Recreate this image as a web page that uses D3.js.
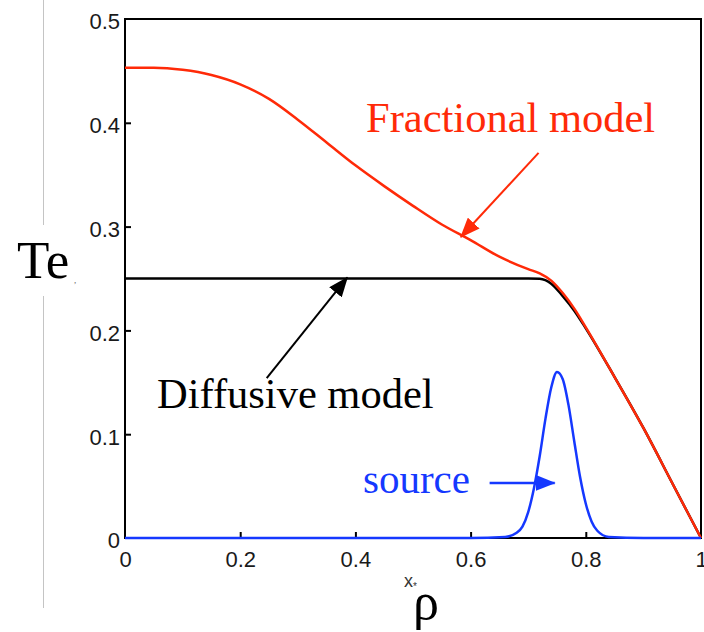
<!DOCTYPE html>
<html>
<head>
<meta charset="utf-8">
<script src="https://cdn.jsdelivr.net/npm/d3@7"></script>
<style>
  html, body { margin: 0; padding: 0; background: #fff; }
  svg { display: block; }
</style>
</head>
<body>
<div id="chart"></div>
<script>
// profile data (rho, Te)
const fracRho = [0, 0.05, 0.1, 0.15, 0.2, 0.25, 0.3, 0.35, 0.4, 0.45, 0.5, 0.55, 0.6, 0.65, 0.7, 0.72, 0.74, 0.76, 0.78, 0.8, 0.85, 0.9, 0.95, 1];
const fracTe  = [0.453, 0.453, 0.451, 0.446, 0.437, 0.423, 0.403, 0.381, 0.359, 0.339, 0.320, 0.302, 0.287, 0.271, 0.259, 0.255, 0.248, 0.236, 0.221, 0.203, 0.155, 0.106, 0.053, 0];

const diffRho = [0, 0.1, 0.2, 0.3, 0.4, 0.5, 0.6, 0.7, 0.72, 0.74, 0.76, 0.78, 0.8, 0.85, 0.9, 0.95, 1];
const diffTe  = [0.25, 0.25, 0.25, 0.25, 0.25, 0.25, 0.25, 0.25, 0.2497, 0.245, 0.233, 0.219, 0.202, 0.155, 0.106, 0.053, 0];

const srcRho = [0, 0.6, 0.66, 0.68, 0.69, 0.70, 0.71, 0.72, 0.73, 0.74, 0.75, 0.76, 0.77, 0.78, 0.79, 0.80, 0.81, 0.82, 0.84, 0.9, 1];
const srcVal = [0, 0, 0.001, 0.005, 0.011, 0.025, 0.048, 0.079, 0.115, 0.145, 0.160, 0.153, 0.128, 0.093, 0.059, 0.033, 0.016, 0.007, 0.001, 0, 0];

const xTicks = [0, 0.2, 0.4, 0.6, 0.8, 1];
const yTicks = [0, 0.1, 0.2, 0.3, 0.4, 0.5];

// annotation arrows: [tailRho, tailTe, tipRho, tipTe]
const fracArrow = [0.718, 0.371, 0.583, 0.290];
const diffArrow = [0.246, 0.154, 0.386, 0.251];
const srcArrow  = [0.633, 0.053, 0.746, 0.053];

const width = 704, height = 632;
const red = "#ff2a08", blue = "#1538ff";

const svg = d3.select("#chart").append("svg")
    .attr("width", width)
    .attr("height", height);

const x = d3.scaleLinear().domain([0, 1]).range([125, 701]);
const y = d3.scaleLinear().domain([0, 0.5]).range([538, 19]);

// thin grey rule on the left of the slide
svg.append("line").attr("x1", 43.5).attr("x2", 43.5).attr("y1", 0).attr("y2", 225)
    .attr("stroke", "#c4c4c4").attr("stroke-width", 1);
svg.append("line").attr("x1", 43.5).attr("x2", 43.5).attr("y1", 296).attr("y2", 608)
    .attr("stroke", "#c4c4c4").attr("stroke-width", 1);

const fmt = d => d === 0 ? "0" : d3.format("~g")(d);

const xAxis = svg.append("g")
    .attr("transform", `translate(0,${y(0)})`)
    .call(d3.axisBottom(x).tickValues(xTicks).tickSize(-6).tickPadding(13).tickFormat(fmt));
const yAxis = svg.append("g")
    .attr("transform", `translate(${x(0)},0)`)
    .call(d3.axisLeft(y).tickValues(yTicks).tickSize(-6).tickPadding(5).tickFormat(fmt));

[xAxis, yAxis].forEach(g => {
  g.select(".domain").remove();
  g.selectAll(".tick line").attr("stroke", "#000").attr("stroke-width", 2);
  g.selectAll(".tick text")
    .attr("font-family", "'Liberation Sans', Arial, Helvetica, sans-serif")
    .attr("font-size", 22)
    .attr("fill", "#1a1a1a");
});
yAxis.selectAll(".tick text").attr("dy", "0.45em");
// ticks at the ends sit on the frame
xAxis.selectAll(".tick line").filter(d => d === 0 || d === 1).remove();
yAxis.selectAll(".tick line").filter(d => d === 0 || d === 0.5).remove();

// frame
svg.append("rect")
    .attr("x", x(0)).attr("y", y(0.5))
    .attr("width", x(1) - x(0)).attr("height", y(0) - y(0.5))
    .attr("fill", "none").attr("stroke", "#000").attr("stroke-width", 2);

const line = d3.line()
    .x(d => x(d[0]))
    .y(d => y(d[1]))
    .curve(d3.curveMonotoneX);

svg.append("path")
    .datum(diffRho.map((r, i) => [r, diffTe[i]]))
    .attr("fill", "none").attr("stroke", "#000").attr("stroke-width", 2.5)
    .attr("d", line);

svg.append("path")
    .datum(fracRho.map((r, i) => [r, fracTe[i]]))
    .attr("fill", "none").attr("stroke", red).attr("stroke-width", 2.5)
    .attr("d", line);

svg.append("path")
    .datum(srcRho.map((r, i) => [r, srcVal[i]]))
    .attr("fill", "none").attr("stroke", blue).attr("stroke-width", 2.5)
    .attr("d", line);

// arrow heads
const defs = svg.append("defs");
[["red", red], ["black", "#000"], ["blue", blue]].forEach(([id, c]) => {
  defs.append("marker")
      .attr("id", "head-" + id)
      .attr("viewBox", "0 -8 20 16")
      .attr("markerUnits", "userSpaceOnUse")
      .attr("markerWidth", 20).attr("markerHeight", 16)
      .attr("refX", 19).attr("refY", 0)
      .attr("orient", "auto")
    .append("path")
      .attr("d", "M0,-8L20,0L0,8Z")
      .attr("fill", c);
});

function arrow(a, color, id, w) {
  svg.append("line")
      .attr("x1", x(a[0])).attr("y1", y(a[1]))
      .attr("x2", x(a[2])).attr("y2", y(a[3]))
      .attr("stroke", color).attr("stroke-width", w)
      .attr("marker-end", `url(#head-${id})`);
}
arrow(fracArrow, red, "red", 2);
arrow(diffArrow, "#000", "black", 2);
arrow(srcArrow, blue, "blue", 2.5);

const serif = "'Liberation Serif', 'Times New Roman', Times, serif";

svg.append("text").attr("x", 366).attr("y", 132)
    .attr("font-family", serif).attr("font-size", 42.5).attr("fill", red)
    .text("Fractional model");
svg.append("text").attr("x", 157).attr("y", 408)
    .attr("font-family", serif).attr("font-size", 42.5).attr("fill", "#000")
    .text("Diffusive model");
svg.append("text").attr("x", 363).attr("y", 493)
    .attr("font-family", serif).attr("font-size", 41).attr("fill", blue)
    .text("source");

// axis titles
svg.append("text").attr("x", 17).attr("y", 278)
    .attr("font-family", serif).attr("font-size", 53).attr("fill", "#000")
    .text("Te");
svg.append("text").attr("x", 74).attr("y", 283)
    .attr("font-family", serif).attr("font-size", 9).attr("fill", "#666")
    .text(",");

const xs = svg.append("text").attr("x", 404).attr("y", 587)
    .attr("font-family", "'Liberation Sans', Arial, sans-serif")
    .attr("fill", "#333");
xs.append("tspan").attr("font-size", 18).text("x");
xs.append("tspan").attr("font-size", 10).attr("dy", 3).text("*");

svg.append("text").attr("x", 413).attr("y", 619)
    .attr("font-family", serif).attr("font-size", 52).attr("fill", "#000")
    .text("ρ");
</script>
</body>
</html>
